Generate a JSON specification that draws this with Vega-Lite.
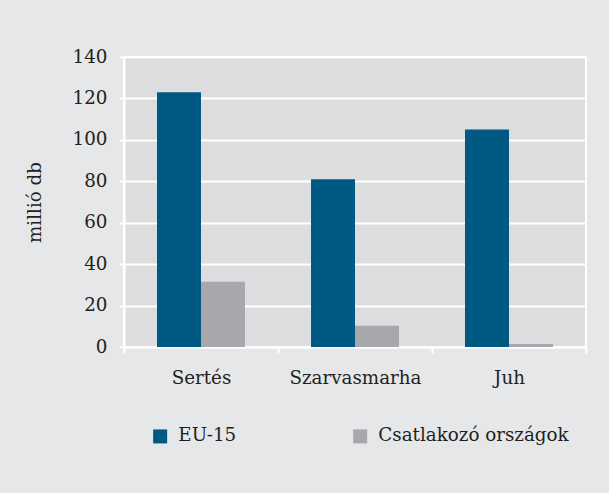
{
  "$schema": "https://vega.github.io/schema/vega-lite/v6.json",
  "autosize": "none",
  "width": 462,
  "height": 290,
  "padding": {"left": 124, "top": 57, "right": 23, "bottom": 146},
  "background": "#e6e7e9",
  "data": {
    "values": [
      {"kategoria": "Sertés", "csoport": "EU-15", "ertek": 123},
      {"kategoria": "Sertés", "csoport": "Csatlakozó országok", "ertek": 31.5},
      {"kategoria": "Szarvasmarha", "csoport": "EU-15", "ertek": 81},
      {"kategoria": "Szarvasmarha", "csoport": "Csatlakozó országok", "ertek": 10.3},
      {"kategoria": "Juh", "csoport": "EU-15", "ertek": 105},
      {"kategoria": "Juh", "csoport": "Csatlakozó országok", "ertek": 1.4}
    ]
  },
  "mark": {"type": "bar", "strokeWidth": 0},
  "encoding": {
    "x": {
      "field": "kategoria",
      "type": "nominal",
      "sort": ["Sertés", "Szarvasmarha", "Juh"],
      "scale": {"paddingInner": 0, "paddingOuter": 0},
      "axis": {
        "title": null,
        "labelAngle": 0,
        "tickBand": "extent",
        "tickSize": 6,
        "tickColor": "white",
        "tickWidth": 2,
        "domainColor": "white",
        "domainWidth": 2,
        "labelPadding": 16,
        "grid": false
      }
    },
    "xOffset": {
      "field": "csoport",
      "type": "nominal",
      "sort": ["EU-15", "Csatlakozó országok"],
      "scale": {"paddingOuter": 0.75, "paddingInner": 0}
    },
    "y": {
      "field": "ertek",
      "type": "quantitative",
      "scale": {"domain": [0, 140], "nice": false},
      "axis": {
        "title": "millió db",
        "values": [0, 20, 40, 60, 80, 100, 120, 140],
        "grid": true,
        "gridColor": "white",
        "gridWidth": 2,
        "gridOpacity": 1,
        "tickColor": "white",
        "tickWidth": 2,
        "tickSize": 5,
        "domainColor": "white",
        "domainWidth": 2,
        "labelPadding": 12,
        "titlePadding": 28,
        "titleFontWeight": "normal"
      }
    },
    "color": {
      "field": "csoport",
      "type": "nominal",
      "scale": {"domain": ["EU-15", "Csatlakozó országok"], "range": ["#005983", "#a7a8ab"]},
      "legend": {
        "title": null,
        "orient": "none",
        "legendX": 27,
        "legendY": 370,
        "direction": "horizontal",
        "columns": 2,
        "columnPadding": 114,
        "symbolType": "square",
        "symbolSize": 196,
        "symbolStrokeWidth": 0,
        "symbolOpacity": 1,
        "labelOffset": 9,
        "padding": 0,
        "labelLimit": 300
      }
    }
  },
  "config": {
    "font": "DejaVu Serif",
    "view": {"fill": "#dcdddf", "stroke": "white", "strokeWidth": 2},
    "axis": {
      "labelFont": "DejaVu Serif",
      "labelFontSize": 18.3,
      "labelColor": "#231f20",
      "titleFont": "DejaVu Serif",
      "titleFontSize": 18.3,
      "titleColor": "#231f20"
    },
    "legend": {
      "labelFont": "DejaVu Serif",
      "labelFontSize": 18.3,
      "labelColor": "#231f20"
    }
  }
}
